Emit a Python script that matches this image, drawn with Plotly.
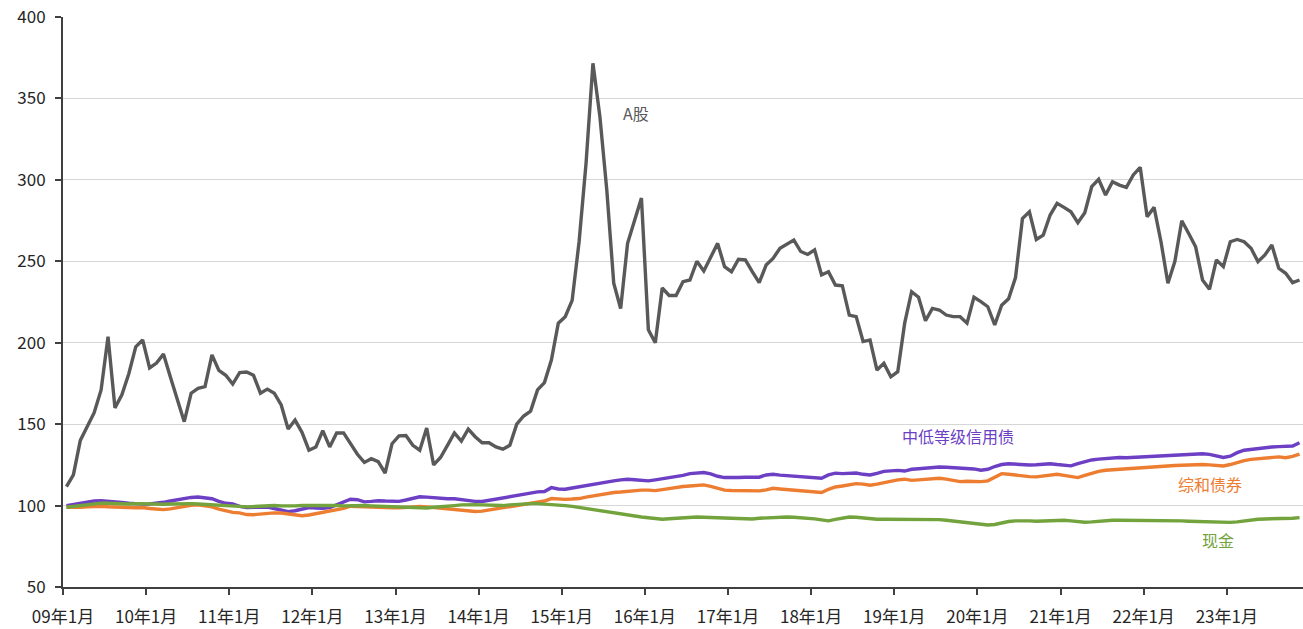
import plotly.graph_objects as go

# Monthly index values, Jan 2009 - Nov 2023 (base = 100)
a_share = [
    111.6, 118.8, 140.0, 148.4, 157.0, 171.0, 203.7, 160.0, 168.0, 181.0, 197.5, 201.7,
    184.5, 187.5, 193.0, 179.0, 165.7, 151.5, 169.0, 172.0, 173.0, 192.5, 183.0, 180.0,
    174.6, 181.6, 182.0, 180.0, 169.0, 171.5, 169.0, 161.8, 147.0, 152.5, 145.0, 134.0,
    136.0, 146.0, 136.0, 144.6, 144.6, 138.4, 131.5, 126.5, 128.8, 127.0, 120.0, 138.0,
    142.8, 143.0, 137.0, 134.0, 147.6, 125.0, 129.5, 137.0, 144.6, 139.6, 147.0, 142.3,
    138.6, 138.6, 136.0, 134.6, 137.0, 150.0, 155.0, 158.0, 171.0, 175.5, 189.4, 212.0,
    216.0, 226.0, 262.0, 310.0, 371.6, 339.0, 293.7, 236.6, 221.0, 261.0, 275.0, 288.8,
    208.0, 200.0, 233.6, 229.0, 229.0, 237.5, 238.5, 250.0, 244.0, 252.0, 261.0, 246.7,
    243.6, 251.2, 250.8, 243.6, 236.9, 247.7, 251.8, 258.0, 260.4, 263.0, 256.0, 254.2,
    257.0, 241.6, 243.6, 235.4, 235.0, 217.0, 216.0, 200.7, 201.7, 183.2, 187.3, 179.1,
    182.2, 212.0, 231.3, 227.9, 213.5, 221.1, 220.1, 217.0, 216.0, 216.0, 212.0, 227.9,
    225.2, 222.1, 210.9, 223.0, 227.0, 240.0, 276.3, 280.4, 263.4, 266.1, 278.4, 285.6,
    283.1, 280.4, 273.7, 279.8, 295.8, 300.3, 290.7, 298.9, 296.8, 295.4, 303.0, 307.7,
    277.4, 283.1, 262.0, 236.5, 249.8, 274.9, 267.1, 258.9, 238.5, 232.8, 250.8, 246.7,
    262.0, 263.4, 262.0, 258.0, 249.8, 253.9, 260.0, 245.7, 242.6, 236.9, 238.5,
]

credit_bond = [
    100.0, 100.8, 101.5, 102.2, 102.8, 103.0, 102.8, 102.4, 101.9, 101.4, 101.0, 100.9,
    101.0, 101.3, 102.0, 102.8, 103.6, 104.4, 105.0, 105.3, 105.0, 104.2, 102.6, 101.4,
    101.0, 99.5, 98.8, 98.9, 99.3, 99.0, 98.2, 97.5, 96.3, 96.8, 97.9, 98.8,
    98.5, 98.3, 98.8, 100.5, 102.5, 103.9, 103.6, 102.3, 102.6, 103.0, 102.8, 102.6,
    102.6, 103.4, 104.5, 105.4, 105.2, 104.8, 104.5, 104.2, 104.2, 103.6, 103.0, 102.6,
    102.5, 103.2, 104.0, 105.0, 105.8, 106.3, 106.8, 107.5, 108.4, 108.6, 111.0, 110.2,
    110.0, 110.8, 111.6, 112.3, 113.1, 113.8, 114.6, 115.2, 115.8, 116.2, 115.9, 115.4,
    115.2, 115.8, 116.4, 116.9, 117.4, 118.5, 119.6, 120.1, 120.3, 119.5, 118.0, 117.2,
    117.0, 117.2, 117.4, 117.2, 117.4, 118.8, 119.2, 118.7, 118.4, 118.2, 117.8, 117.5,
    117.2, 116.8, 118.8, 119.9, 119.6, 119.8, 120.0, 119.2, 118.8, 119.8, 121.0, 121.3,
    121.6, 121.2, 122.3, 122.6, 123.0, 123.4, 123.7, 123.5, 123.2, 122.9, 122.9, 122.5,
    121.7, 122.3, 124.0, 125.2, 125.7, 125.3, 125.0, 124.9, 125.1, 125.5, 125.7, 125.2,
    124.6, 124.4, 125.8, 127.0, 128.0, 128.5, 129.0, 129.3, 129.5, 129.4, 129.6, 129.9,
    130.0, 130.2, 130.5, 130.9, 131.2, 131.4, 131.5, 131.6, 131.8, 131.4, 130.5, 129.5,
    130.3, 132.5, 134.0, 134.6, 135.0, 135.6, 136.0, 136.2, 136.4, 136.6, 138.6,
]

composite_bond = [
    99.0, 98.8, 99.0, 99.3, 99.5, 99.6, 99.3, 99.0, 98.8, 98.8, 98.7, 98.8,
    98.2, 97.8, 97.5, 98.0, 98.8, 99.5, 100.2, 100.4, 100.0, 99.2, 97.8, 96.9,
    95.8, 95.5, 94.5, 94.4, 94.8, 95.2, 95.5, 95.4, 94.8, 94.0, 93.8, 94.2,
    95.0, 96.2, 97.0, 97.5, 98.3, 99.6, 99.4, 99.0, 98.8, 98.9, 98.8, 98.6,
    98.6, 99.0, 99.2, 99.4, 99.2, 98.8, 98.3, 97.8, 97.2, 96.8, 96.5, 96.4,
    96.6, 97.3, 98.0, 98.8, 99.2, 99.8, 100.6, 101.2, 101.8, 102.8, 104.3, 104.0,
    103.8, 104.0, 104.3, 105.2, 106.0, 106.6, 107.3, 108.0, 108.3, 108.8, 109.3, 109.5,
    109.5, 109.2, 109.8, 110.5, 111.2, 111.7, 112.0, 112.5, 112.7, 111.8, 110.5, 109.5,
    109.3, 109.2, 109.4, 109.0, 109.0, 109.6, 110.6, 110.2, 109.8, 109.4, 109.0, 108.5,
    108.2, 108.0, 110.0, 111.4, 112.0, 112.6, 113.5, 113.2, 112.5, 113.2, 114.1, 114.8,
    115.8, 116.2, 115.5, 115.8, 116.2, 116.6, 116.8, 116.2, 115.2, 114.7, 114.9, 114.8,
    114.7, 115.2, 117.5, 119.6, 119.2, 118.6, 118.0, 117.8, 117.6, 118.2, 118.8, 119.2,
    118.5, 117.8, 117.2, 118.5, 120.0, 121.0, 121.7, 122.0, 122.7, 122.8, 123.2, 123.3,
    123.7, 123.9, 124.0, 124.3, 124.6, 124.8, 125.0, 125.3, 125.2, 125.0, 124.6, 124.3,
    125.2, 126.5, 127.6, 128.4, 128.9, 129.4, 129.7, 129.9, 129.4, 130.2, 131.6,
]

cash = [
    99.0, 99.5, 100.2, 100.8, 101.2, 101.5, 101.4, 101.2, 101.0, 101.0, 101.2, 101.0,
    100.8, 100.6, 100.8, 101.0, 101.2, 101.3, 101.2, 101.0, 100.8, 100.6, 100.6, 100.2,
    99.8, 99.5, 99.2, 99.5, 99.8, 100.0, 100.0, 99.8, 99.6, 99.8, 100.0, 100.0,
    100.2, 100.5, 100.4, 100.0, 99.8, 100.0, 100.2, 100.0, 99.8, 99.6, 99.6, 99.5,
    99.2, 98.8, 98.4, 98.2, 98.5, 99.0, 99.5, 99.8, 100.0, 100.4, 100.6, 100.6,
    100.4, 100.2, 100.0, 100.0, 100.4, 100.8, 101.0, 101.2, 101.2, 101.0, 100.8, 100.5,
    100.0, 99.5, 98.8, 98.2, 97.5, 96.7, 96.0, 95.4, 94.6, 94.2, 93.6, 93.0,
    92.5, 92.0, 91.6, 91.9, 92.3, 92.6, 93.0, 93.0, 92.8, 92.6, 92.8, 92.6,
    92.2, 91.8, 91.6, 91.8, 92.2, 92.5, 92.8, 93.0, 93.0, 92.8, 92.6, 92.2,
    91.8, 91.2, 90.6, 91.5, 92.4, 93.0, 92.8, 92.4, 91.8, 91.6, 91.6, 91.6,
    91.6, 91.5, 91.6, 91.8, 91.6, 91.6, 91.4, 91.0, 90.6, 90.2, 89.6, 89.2,
    88.8, 88.1, 88.4, 89.4, 90.2, 90.6, 90.8, 90.6, 90.4, 90.6, 90.8, 91.0,
    91.0, 90.6, 90.0, 89.8, 90.0, 90.4, 90.8, 91.0, 91.0, 91.0, 90.9, 90.8,
    90.8, 90.6, 90.6, 90.6, 90.7, 90.6, 90.4, 90.2, 90.0, 89.8, 89.6, 89.6,
    89.7, 90.0, 90.6, 91.2, 91.6, 91.8, 91.8, 92.0, 92.0, 92.2, 92.6,
]

tick_labels = ["09年1月", "10年1月", "11年1月", "12年1月", "13年1月", "14年1月", "15年1月",
               "16年1月", "17年1月", "18年1月", "19年1月", "20年1月", "21年1月", "22年1月",
               "23年1月"]

series_names = ["A股", "中低等级信用债", "综和债券", "现金"]
series_colors = ["#595959", "#6c3fc4", "#ed7d31", "#72a33c"]

# each month sits in the middle of its category slot; ticks mark slot boundaries
x_vals = [i + 0.5 for i in range(len(a_share))]
tick_vals = [12 * k for k in range(len(tick_labels))]

FONT = "Noto Sans CJK SC, Noto Sans, sans-serif"

fig = go.Figure()
for name, vals, color in zip(series_names, [a_share, credit_bond, composite_bond, cash], series_colors):
    fig.add_trace(go.Scatter(
        x=x_vals, y=vals, mode="lines", name=name,
        line=dict(color=color, width=3.4),
    ))

# inline series labels: (series index, x position in months, y value)
label_spots = [(0, 82.7, 341), (1, 129.2, 142.7), (2, 165.6, 113.2), (3, 166.7, 79.0)]
for idx, lx, ly in label_spots:
    fig.add_annotation(
        x=lx, y=ly, text=series_names[idx], showarrow=False,
        font=dict(family=FONT, size=16, color=series_colors[idx]),
    )

fig.update_layout(
    width=1303, height=629,
    margin=dict(l=63, r=0, t=17, b=42),
    paper_bgcolor="white", plot_bgcolor="white",
    showlegend=False,
    font=dict(family=FONT, size=17, color="#404040"),
)
fig.update_xaxes(
    range=[0, len(a_share)],
    tickmode="array", tickvals=tick_vals, ticktext=tick_labels,
    showgrid=False, zeroline=False,
    showline=True, linecolor="#404040", linewidth=2,
    ticks="outside", ticklen=6, tickwidth=2, tickcolor="#404040",
    ticklabelstandoff=8,
    tickfont=dict(family=FONT, size=17, color="#262626"),
)
fig.update_yaxes(
    range=[50, 400], tickvals=[50, 100, 150, 200, 250, 300, 350, 400],
    showgrid=True, gridcolor="#d6d6d6", gridwidth=1, zeroline=False,
    showline=True, linecolor="#404040", linewidth=2,
    ticks="outside", ticklen=6, tickwidth=2, tickcolor="#404040",
    ticklabelstandoff=6,
    tickfont=dict(family=FONT, size=17, color="#262626"),
)

fig.write_html("out.html")
